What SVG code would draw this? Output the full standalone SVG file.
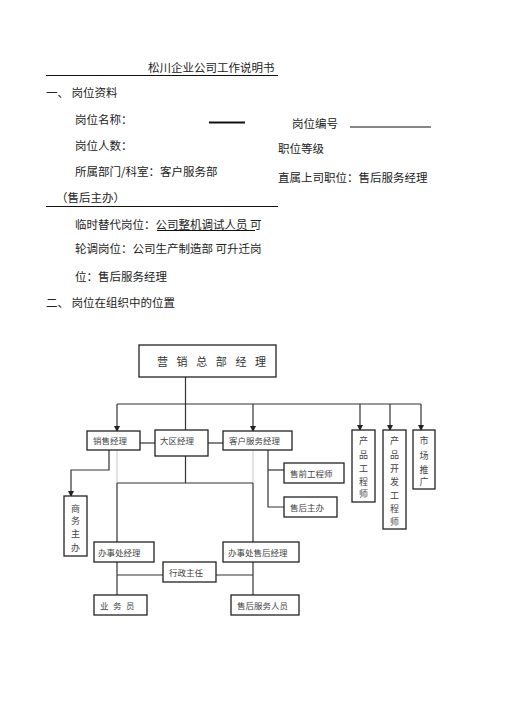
<svg xmlns="http://www.w3.org/2000/svg" width="505" height="714" viewBox="0 0 505 714">
<style>
.t{font-family:"Noto Sans CJK SC","Noto Sans",sans-serif;font-size:11.5px;fill:#222}
.b{font-family:"Noto Sans CJK SC","Noto Sans",sans-serif;font-size:8.5px;fill:#444}
.v{font-family:"Noto Sans CJK SC","Noto Sans",sans-serif;font-size:9px;fill:#444;text-anchor:middle}
.box{fill:#fff;stroke:#222;stroke-width:1.3}
.ln{fill:none;stroke:#333;stroke-width:1.2}
.dt{fill:none;stroke:#c8c8c8;stroke-width:1}
.ul{stroke:#111;stroke-width:1.2}
</style>
<defs>
<marker id="ar" markerWidth="6" markerHeight="6" refX="5" refY="3" orient="auto" markerUnits="userSpaceOnUse">
<path d="M0,0 L6,3 L0,6 Z" fill="#222"/>
</marker>
</defs>
<rect width="505" height="714" fill="#fff"/>
<g id="doc">
<text class="t" x="148" y="72">松川企业公司工作说明书</text>
<line class="ul" x1="46" y1="75.5" x2="278" y2="75.5"/>
<text class="t" x="46" y="97">一、 岗位资料</text>
<text class="t" x="75" y="123.5">岗位名称：</text>
<line x1="209" y1="122.5" x2="245" y2="122.5" stroke="#111" stroke-width="1.8"/>
<text class="t" x="292" y="127.5">岗位编号</text>
<line class="ul" x1="350" y1="127" x2="431" y2="127"/>
<text class="t" x="75" y="149.5">岗位人数：</text>
<text class="t" x="278" y="152.5">职位等级</text>
<text class="t" x="75" y="175.5">所属部门/科室：客户服务部</text>
<text class="t" x="278" y="181.5">直属上司职位：售后服务经理</text>
<text class="t" x="56" y="201.5">（售后主办）</text>
<line class="ul" x1="46" y1="206.5" x2="278" y2="206.5"/>
<text class="t" x="75" y="229">临时替代岗位：公司整机调试人员 可</text>
<line class="ul" x1="157" y1="230.5" x2="255" y2="230.5"/>
<text class="t" x="75" y="252.5">轮调岗位：公司生产制造部 可升迁岗</text>
<text class="t" x="75" y="280.5">位：售后服务经理</text>
<text class="t" x="46" y="307">二、 岗位在组织中的位置</text>
</g>
<g id="connectors">
<line class="ln" x1="185.5" y1="377" x2="185.5" y2="430"/>
<line class="ln" x1="117" y1="404" x2="421" y2="404"/>
<line class="ln" x1="117" y1="404" x2="117" y2="431" marker-end="url(#ar)"/>
<line class="ln" x1="253" y1="404" x2="253" y2="431" marker-end="url(#ar)"/>
<line class="ln" x1="360" y1="404" x2="360" y2="430" marker-end="url(#ar)"/>
<line class="ln" x1="390" y1="404" x2="390" y2="430" marker-end="url(#ar)"/>
<line class="ln" x1="421" y1="404" x2="421" y2="430" marker-end="url(#ar)"/>
<line class="ln" x1="140" y1="443" x2="155" y2="443"/>
<line class="ln" x1="208" y1="443" x2="223" y2="443"/>
<polyline class="ln" points="109,450 109,470 71,470 71,496" marker-end="url(#ar)"/>
<line class="dt" x1="117" y1="451" x2="117" y2="483"/>
<line class="dt" x1="253" y1="451" x2="253" y2="483"/>
<line class="ln" x1="185.5" y1="456" x2="185.5" y2="483"/>
<line class="ln" x1="117" y1="483" x2="253" y2="483"/>
<line class="ln" x1="117" y1="483" x2="117" y2="542"/>
<line class="ln" x1="253" y1="483" x2="253" y2="542"/>
<polyline class="ln" points="268,450 268,507 284,507"/>
<line class="ln" x1="268" y1="470" x2="284" y2="470"/>
<line class="ln" x1="117" y1="562" x2="117" y2="595"/>
<line class="ln" x1="253" y1="562" x2="253" y2="595"/>
<line class="ln" x1="117" y1="575" x2="163" y2="575"/>
<line class="ln" x1="216" y1="575" x2="253" y2="575"/>
</g>
<g id="n-top"><rect class="box" x="139" y="345" width="137" height="32"/><text x="157" y="366" font-family="Noto Sans CJK SC, sans-serif" font-size="11" fill="#333" letter-spacing="8.6">营销总部经理</text></g>
<g id="n-sales"><rect class="box" x="87" y="431" width="53" height="19"/><text class="b" x="93" y="444">销售经理</text></g>
<g id="n-region"><rect class="box" x="155" y="430" width="53" height="26"/><text class="b" x="160" y="444">大区经理</text></g>
<g id="n-cs"><rect class="box" x="223" y="431" width="69" height="19"/><text class="b" x="229" y="444">客户服务经理</text></g>
<g id="n-presale"><rect class="box" x="284" y="463" width="60" height="20"/><text class="b" x="290" y="476.5">售前工程师</text></g>
<g id="n-afteradmin"><rect class="box" x="284" y="497" width="53" height="20"/><text class="b" x="290" y="510.5">售后主办</text></g>
<g id="n-pe"><rect class="box" x="352" y="430" width="23" height="72"/>
<text class="v" x="363.5" y="444">产</text><text class="v" x="363.5" y="458">品</text><text class="v" x="363.5" y="471.5">工</text><text class="v" x="363.5" y="484.5">程</text><text class="v" x="363.5" y="497">师</text></g>
<g id="n-pde"><rect class="box" x="383" y="430" width="23" height="99"/>
<text class="v" x="394.5" y="444">产</text><text class="v" x="394.5" y="458">品</text><text class="v" x="394.5" y="471.5">开</text><text class="v" x="394.5" y="485">发</text><text class="v" x="394.5" y="498.5">工</text><text class="v" x="394.5" y="511.5">程</text><text class="v" x="394.5" y="524.5">师</text></g>
<g id="n-mkt"><rect class="box" x="413" y="430" width="22" height="59"/>
<text class="v" x="424" y="444">市</text><text class="v" x="424" y="459">场</text><text class="v" x="424" y="472.5">推</text><text class="v" x="424" y="485">广</text></g>
<g id="n-biz"><rect class="box" x="64" y="496" width="23" height="60"/>
<text class="v" x="75.5" y="511.5">商</text><text class="v" x="75.5" y="524">务</text><text class="v" x="75.5" y="537">主</text><text class="v" x="75.5" y="551">办</text></g>
<g id="n-office"><rect class="box" x="94" y="542" width="60" height="20"/><text class="b" x="98" y="555.5">办事处经理</text></g>
<g id="n-officeas"><rect class="box" x="223" y="542" width="76" height="20"/><text class="b" x="228" y="555.5">办事处售后经理</text></g>
<g id="n-admin"><rect class="box" x="163" y="562" width="53" height="20"/><text class="b" x="169" y="575.5">行政主任</text></g>
<g id="n-staff"><rect class="box" x="94" y="595" width="53" height="20"/><text class="b" x="100" y="608.5" letter-spacing="4.5">业务员</text></g>
<g id="n-asstaff"><rect class="box" x="231" y="595" width="68" height="20"/><text class="b" x="237" y="608.5">售后服务人员</text></g>
</svg>
